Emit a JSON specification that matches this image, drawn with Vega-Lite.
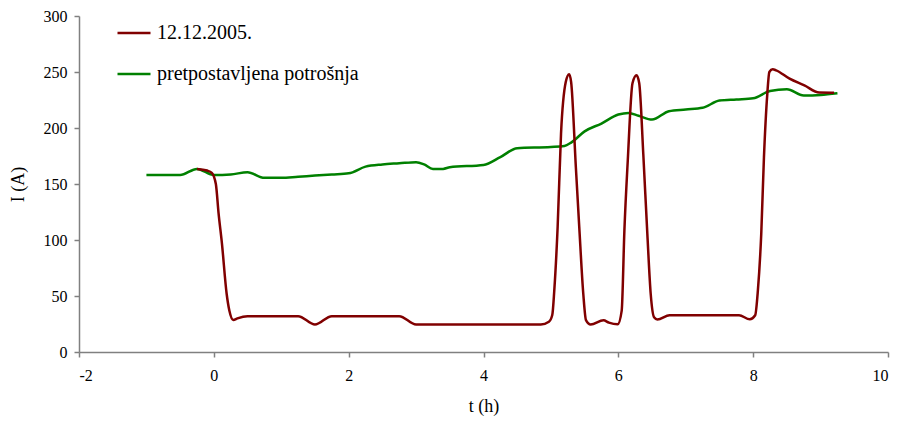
{
  "$schema": "https://vega.github.io/schema/vega-lite/v6.json",
  "width": 809,
  "height": 336,
  "autosize": {"type": "none"},
  "padding": {"left": 79, "top": 16, "right": 11, "bottom": 70},
  "background": "white",
  "config": {
    "view": {"stroke": null},
    "font": "Liberation Serif",
    "text": {"font": "Liberation Serif"},
    "legend": {"labelFont": "Liberation Serif", "titleFont": "Liberation Serif"},
    "axis": {
      "grid": false,
      "domainColor": "#808080",
      "tickColor": "#808080",
      "domainWidth": 1.5,
      "tickWidth": 1.5,
      "tickSize": 5,
      "labelColor": "#000000",
      "labelFont": "Liberation Serif",
      "labelFontSize": 16,
      "titleFont": "Liberation Serif",
      "titleFontSize": 18,
      "titleFontWeight": "normal",
      "titleColor": "#000000"
    }
  },
  "data": {
    "values": [
      {"series": "pretpostavljena potrošnja", "t": -1.0, "I": 158},
      {"series": "pretpostavljena potrošnja", "t": -0.5, "I": 158},
      {"series": "pretpostavljena potrošnja", "t": -0.25, "I": 163.5},
      {"series": "pretpostavljena potrošnja", "t": 0.0, "I": 158},
      {"series": "pretpostavljena potrošnja", "t": 0.25, "I": 158.5},
      {"series": "pretpostavljena potrošnja", "t": 0.5, "I": 160.5},
      {"series": "pretpostavljena potrošnja", "t": 0.75, "I": 155.5},
      {"series": "pretpostavljena potrošnja", "t": 1.0, "I": 155.5},
      {"series": "pretpostavljena potrošnja", "t": 1.25, "I": 156.5},
      {"series": "pretpostavljena potrošnja", "t": 1.5, "I": 157.5},
      {"series": "pretpostavljena potrošnja", "t": 1.75, "I": 158.5},
      {"series": "pretpostavljena potrošnja", "t": 2.0, "I": 159.5},
      {"series": "pretpostavljena potrošnja", "t": 2.25, "I": 165.5},
      {"series": "pretpostavljena potrošnja", "t": 2.5, "I": 167.5},
      {"series": "pretpostavljena potrošnja", "t": 2.75, "I": 168.5},
      {"series": "pretpostavljena potrošnja", "t": 3.0, "I": 169.5},
      {"series": "pretpostavljena potrošnja", "t": 3.12, "I": 167.5},
      {"series": "pretpostavljena potrošnja", "t": 3.25, "I": 163.5},
      {"series": "pretpostavljena potrošnja", "t": 3.4, "I": 163.5},
      {"series": "pretpostavljena potrošnja", "t": 3.5, "I": 165},
      {"series": "pretpostavljena potrošnja", "t": 4.0, "I": 167},
      {"series": "pretpostavljena potrošnja", "t": 4.25, "I": 174},
      {"series": "pretpostavljena potrošnja", "t": 4.5, "I": 182},
      {"series": "pretpostavljena potrošnja", "t": 5.0, "I": 183},
      {"series": "pretpostavljena potrošnja", "t": 5.2, "I": 184},
      {"series": "pretpostavljena potrošnja", "t": 5.3, "I": 187},
      {"series": "pretpostavljena potrošnja", "t": 5.5, "I": 197},
      {"series": "pretpostavljena potrošnja", "t": 5.75, "I": 204},
      {"series": "pretpostavljena potrošnja", "t": 6.0, "I": 212},
      {"series": "pretpostavljena potrošnja", "t": 6.15, "I": 213.5},
      {"series": "pretpostavljena potrošnja", "t": 6.3, "I": 211},
      {"series": "pretpostavljena potrošnja", "t": 6.5, "I": 207.5},
      {"series": "pretpostavljena potrošnja", "t": 6.75, "I": 215},
      {"series": "pretpostavljena potrošnja", "t": 7.0, "I": 216.5},
      {"series": "pretpostavljena potrošnja", "t": 7.25, "I": 218},
      {"series": "pretpostavljena potrošnja", "t": 7.5, "I": 224.5},
      {"series": "pretpostavljena potrošnja", "t": 7.75, "I": 225.5},
      {"series": "pretpostavljena potrošnja", "t": 8.0, "I": 226.5},
      {"series": "pretpostavljena potrošnja", "t": 8.25, "I": 233},
      {"series": "pretpostavljena potrošnja", "t": 8.5, "I": 234.5},
      {"series": "pretpostavljena potrošnja", "t": 8.75, "I": 229},
      {"series": "pretpostavljena potrošnja", "t": 9.0, "I": 229.5},
      {"series": "pretpostavljena potrošnja", "t": 9.25, "I": 231},
      {"series": "12.12.2005.", "t": -0.25, "I": 163.5},
      {"series": "12.12.2005.", "t": -0.1, "I": 162},
      {"series": "12.12.2005.", "t": -0.03, "I": 160},
      {"series": "12.12.2005.", "t": 0.03, "I": 150},
      {"series": "12.12.2005.", "t": 0.07, "I": 124},
      {"series": "12.12.2005.", "t": 0.12, "I": 97},
      {"series": "12.12.2005.", "t": 0.19, "I": 52},
      {"series": "12.12.2005.", "t": 0.23, "I": 37},
      {"series": "12.12.2005.", "t": 0.29, "I": 28.5},
      {"series": "12.12.2005.", "t": 0.35, "I": 30},
      {"series": "12.12.2005.", "t": 0.5, "I": 32},
      {"series": "12.12.2005.", "t": 1.25, "I": 32},
      {"series": "12.12.2005.", "t": 1.5, "I": 24.5},
      {"series": "12.12.2005.", "t": 1.75, "I": 32},
      {"series": "12.12.2005.", "t": 2.75, "I": 32},
      {"series": "12.12.2005.", "t": 3.0, "I": 24.5},
      {"series": "12.12.2005.", "t": 4.85, "I": 24.5},
      {"series": "12.12.2005.", "t": 4.97, "I": 27},
      {"series": "12.12.2005.", "t": 5.02, "I": 33},
      {"series": "12.12.2005.", "t": 5.05, "I": 55},
      {"series": "12.12.2005.", "t": 5.1, "I": 112},
      {"series": "12.12.2005.", "t": 5.15, "I": 195},
      {"series": "12.12.2005.", "t": 5.22, "I": 241},
      {"series": "12.12.2005.", "t": 5.27, "I": 248},
      {"series": "12.12.2005.", "t": 5.3, "I": 241},
      {"series": "12.12.2005.", "t": 5.37, "I": 165},
      {"series": "12.12.2005.", "t": 5.42, "I": 112},
      {"series": "12.12.2005.", "t": 5.48, "I": 52},
      {"series": "12.12.2005.", "t": 5.52, "I": 28.5},
      {"series": "12.12.2005.", "t": 5.59, "I": 24.5},
      {"series": "12.12.2005.", "t": 5.78, "I": 28.3},
      {"series": "12.12.2005.", "t": 5.86, "I": 26.2},
      {"series": "12.12.2005.", "t": 5.99, "I": 24.7},
      {"series": "12.12.2005.", "t": 6.05, "I": 37},
      {"series": "12.12.2005.", "t": 6.09, "I": 108.6},
      {"series": "12.12.2005.", "t": 6.14, "I": 171},
      {"series": "12.12.2005.", "t": 6.21, "I": 240},
      {"series": "12.12.2005.", "t": 6.27, "I": 247},
      {"series": "12.12.2005.", "t": 6.31, "I": 240},
      {"series": "12.12.2005.", "t": 6.37, "I": 177},
      {"series": "12.12.2005.", "t": 6.43, "I": 105.7},
      {"series": "12.12.2005.", "t": 6.48, "I": 52},
      {"series": "12.12.2005.", "t": 6.53, "I": 31},
      {"series": "12.12.2005.", "t": 6.58, "I": 29},
      {"series": "12.12.2005.", "t": 6.76, "I": 32.8},
      {"series": "12.12.2005.", "t": 7.79, "I": 32.8},
      {"series": "12.12.2005.", "t": 7.95, "I": 29.2},
      {"series": "12.12.2005.", "t": 8.03, "I": 32.8},
      {"series": "12.12.2005.", "t": 8.07, "I": 55},
      {"series": "12.12.2005.", "t": 8.12, "I": 105.7},
      {"series": "12.12.2005.", "t": 8.16, "I": 174},
      {"series": "12.12.2005.", "t": 8.21, "I": 230.7},
      {"series": "12.12.2005.", "t": 8.24, "I": 250},
      {"series": "12.12.2005.", "t": 8.29, "I": 252.4},
      {"series": "12.12.2005.", "t": 8.34, "I": 251.5},
      {"series": "12.12.2005.", "t": 8.54, "I": 244},
      {"series": "12.12.2005.", "t": 8.76, "I": 238},
      {"series": "12.12.2005.", "t": 8.98, "I": 231.6},
      {"series": "12.12.2005.", "t": 9.2, "I": 231.5}
    ]
  },
  "mark": {"type": "line", "strokeWidth": 2.5, "interpolate": "monotone"},
  "encoding": {
    "x": {
      "field": "t",
      "type": "quantitative",
      "scale": {"domain": [-2, 10], "nice": false, "zero": false},
      "axis": {"values": [-2, 0, 2, 4, 6, 8, 10], "labelExpr": "'' + datum.value", "title": "t (h)", "labelFont": "Liberation Serif", "labelFontSize": 16, "titleFont": "Liberation Serif", "labelPadding": 10, "titlePadding": 14}
    },
    "y": {
      "field": "I",
      "type": "quantitative",
      "scale": {"domain": [0, 300], "nice": false},
      "axis": {"values": [0, 50, 100, 150, 200, 250, 300], "labelExpr": "'' + datum.value", "title": "I (A)", "labelFont": "Liberation Serif", "labelFontSize": 16, "titleFont": "Liberation Serif", "labelPadding": 7, "titlePadding": 16}
    },
    "color": {
      "field": "series",
      "type": "nominal",
      "scale": {"domain": ["12.12.2005.", "pretpostavljena potrošnja"], "range": ["#800000", "#008000"]},
      "legend": {
        "title": null,
        "orient": "none",
        "legendX": 37,
        "legendY": -1,
        "padding": 0,
        "symbolType": "stroke",
        "symbolSize": 1089,
        "symbolStrokeWidth": 2.5,
        "labelFont": "Liberation Serif",
        "labelFontSize": 20,
        "labelColor": "#000000",
        "labelOffset": 5,
        "rowPadding": 13,
        "labelLimit": 400
      }
    }
  }
}
